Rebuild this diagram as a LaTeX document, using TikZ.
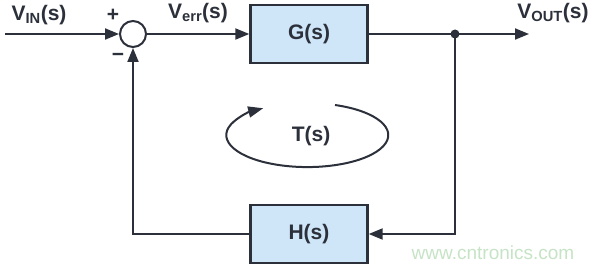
\documentclass[tikz,border=0pt]{standalone}
\usepackage{fontspec}
\setmainfont{Liberation Sans}
\usetikzlibrary{arrows.meta}
\definecolor{ink}{HTML}{2B303A}
\definecolor{boxfill}{HTML}{CFE5F8}
\definecolor{wm}{HTML}{C6E3C6}
\begin{document}
\begin{tikzpicture}[x=1pt,y=-1pt,
  blk/.style={draw=ink,line width=2.4pt,fill=boxfill,minimum width=117pt,minimum height=58pt,inner sep=0pt,font=\fontsize{21}{21}\selectfont\bfseries,text=ink},
  sumc/.style={circle,draw=ink,line width=2pt,minimum size=26pt,inner sep=0pt},
  lbl/.style={font=\fontsize{21}{21}\selectfont\bfseries,text=ink,inner sep=0pt},
  wire/.style={draw=ink,line width=2pt},
  arr/.style={wire,-{Triangle[length=14pt,width=11pt]}}]
\useasboundingbox (0,0) rectangle (595,270);
\node[sumc] (sum) at (133,34) {};
\node[blk] (G) at (309,34) {G(s)};
\node[blk] (H) at (309,234) {H(s)};
\coordinate (in) at (5,34);
\coordinate (out) at (529,34);
\coordinate (j) at (455,34);
\coordinate (jb) at (455,234);
\coordinate (fb) at (133,234);
\fill[ink] (j) circle (4.5pt);
\draw[arr] (in) -- (sum.west);
\draw[arr] (sum.east) -- (G.west);
\draw[arr] (G.east) -- (out);
\draw[arr] (j) -- (jb) -- (H.east);
\draw[arr] (H.west) -- (fb) -- (sum.south);
\node[lbl] (vin) at (39,15) {V\textsubscript{IN}(s)};
\node[lbl] (verr) at (198,13) {V\textsubscript{err}(s)};
\node[lbl] (vout) at (553,13) {V\textsubscript{OUT}(s)};
\node[lbl] (plus) at (113,15) {+};
\node[lbl] (minus) at (118,57) {\textminus};
\node[lbl] (T) at (311,136) {T(s)};
\draw[ink,line width=2pt,-{Triangle[length=15pt,width=11pt]}] (335,105) arc[start angle=-70,end angle=237,x radius=81,y radius=32];
\node[font=\fontsize{19}{19}\selectfont,text=wm,inner sep=0pt] (w) at (493,253) {www.cntronics.com};
\end{tikzpicture}
\end{document}
